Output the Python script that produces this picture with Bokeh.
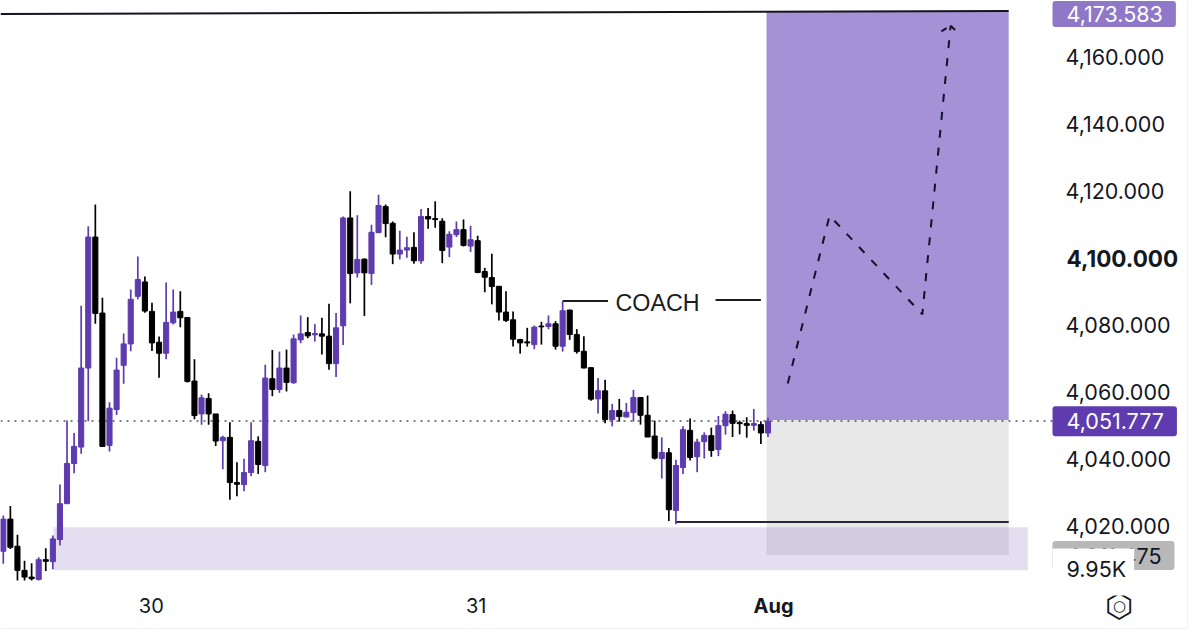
from bokeh.plotting import figure
from bokeh.models import Range1d, FixedTicker, Label, ColumnDataSource
from bokeh.embed import file_html
from bokeh.resources import INLINE

highs = [4023.3,4026.1,4017.5,4009.8,4009.0,4010.8,4013.5,4017.3,4032.5,4051.6,
         4047.9,4085.9,4109.6,4116.1,4088.3,4057.1,4070.4,4077.6,4090.7,4100.6,
         4094.6,4086.8,4076.7,4092.8,4090.7,4090.2,4082.5,4069.9,4059.4,4059.8,
         4053.6,4047.1,4051.1,4039.2,4040.2,4051.1,4046.9,4068.3,4072.7,4072.2,
         4072.8,4077.3,4083.0,4082.5,4080.4,4082.3,4086.5,4083.7,4112.5,4120.1,
         4112.9,4100.0,4110.1,4119.0,4116.1,4111.0,4108.3,4106.5,4107.8,4114.8,
         4115.1,4117.1,4112.0,4108.1,4111.0,4111.6,4109.8,4106.8,4097.2,4101.4,
         4091.8,4090.2,4084.2,4076.0,4079.3,4080.0,4081.1,4083.0,4081.3,4087.3,
         4084.7,4078.9,4076.8,4067.5,4064.3,4063.8,4056.6,4058.1,4056.9,4060.8,
         4058.6,4059.1,4051.6,4046.6,4043.4,4039.9,4049.9,4052.2,4046.2,4048.1,
         4049.5,4053.0,4054.4,4054.6,4051.6,4052.6,4055.1,4051.4,4052.5]
opens = [4012.6,4022.2,4014.1,4006.9,4004.9,4004.2,4010.1,4009.5,4016.1,4026.8,
         4038.8,4043.7,4067.3,4106.4,4083.7,4044.2,4054.9,4068.1,4074.5,4088.7,
         4093.0,4084.2,4075.0,4071.7,4080.8,4084.2,4082.4,4063.4,4053.6,4058.2,
         4053.6,4045.6,4046.6,4033.1,4032.5,4036.1,4045.4,4038.2,4064.1,4060.9,
         4067.3,4062.9,4075.7,4077.9,4077.2,4077.5,4076.8,4068.6,4079.9,4112.1,
         4095.7,4099.8,4095.5,4107.7,4115.5,4110.5,4101.3,4102.5,4103.3,4099.3,
         4112.5,4111.9,4111.1,4103.4,4107.1,4108.6,4103.7,4105.3,4096.1,4094.3,
         4091.7,4084.0,4081.7,4075.8,4075.1,4074.3,4079.8,4079.7,4080.5,4073.8,
         4084.6,4077.3,4072.3,4067.4,4058.1,4060.5,4051.9,4054.6,4052.7,4054.0,
         4058.5,4053.2,4047.0,4040.3,4042.0,4024.8,4037.6,4048.7,4040.8,4045.3,
         4047.1,4043.0,4050.1,4053.4,4051.0,4050.7,4050.2,4050.4,4047.9]
closes = [4022.2,4013.8,4006.9,4004.9,4004.4,4010.1,4009.6,4016.3,4026.8,4038.8,
          4043.9,4067.3,4106.4,4083.6,4043.9,4055.3,4066.7,4074.5,4087.8,4093.7,
          4084.3,4074.8,4071.7,4080.9,4084.0,4082.3,4063.3,4053.1,4058.4,4053.6,
          4045.5,4046.6,4033.1,4032.6,4036.1,4045.6,4038.5,4064.3,4060.9,4067.3,
          4063.0,4076.0,4077.5,4076.9,4077.6,4076.8,4068.6,4079.3,4112.1,4095.5,
          4099.7,4095.7,4107.8,4115.8,4110.4,4101.3,4102.5,4103.2,4099.3,4112.5,
          4111.8,4111.6,4102.4,4107.2,4108.6,4103.9,4105.6,4095.8,4094.4,4091.6,
          4084.0,4081.5,4075.9,4074.8,4074.8,4079.5,4079.6,4080.5,4073.8,4084.4,
          4077.3,4072.2,4067.3,4058.0,4060.5,4051.9,4054.6,4052.8,4054.1,4058.5,
          4053.2,4046.7,4040.4,4042.1,4025.0,4038.2,4048.9,4040.6,4045.2,4047.2,
          4042.7,4050.1,4053.5,4050.8,4050.7,4050.2,4050.7,4047.9,4051.5]
lows = [4008.9,4013.3,4003.9,4003.9,4003.9,4003.9,4006.7,4007.2,4014.3,4026.8,
        4035.9,4041.7,4051.4,4080.5,4043.9,4042.4,4053.3,4062.6,4072.3,4087.8,
        4083.8,4072.4,4064.4,4069.9,4080.3,4079.5,4063.0,4052.0,4050.4,4050.4,
        4044.0,4037.1,4028.0,4029.0,4030.5,4035.0,4035.7,4036.2,4058.9,4059.9,
        4060.3,4062.6,4074.7,4076.2,4075.2,4071.3,4066.8,4064.6,4074.2,4086.6,
        4094.3,4082.8,4092.1,4107.7,4106.3,4098.3,4099.7,4100.2,4098.4,4098.4,
        4108.9,4109.2,4098.6,4100.4,4106.4,4103.6,4101.9,4095.6,4089.9,4086.3,
        4081.5,4081.0,4073.7,4071.6,4073.7,4072.9,4074.3,4078.9,4072.8,4072.2,
        4075.7,4071.6,4067.2,4057.5,4053.7,4050.8,4049.9,4051.3,4052.5,4051.3,
        4050.4,4046.7,4040.0,4034.3,4021.6,4020.7,4035.7,4039.7,4036.2,4040.3,
        4040.8,4041.0,4047.4,4046.7,4047.5,4046.5,4048.6,4044.6,4046.7]

price_ticks = [4020, 4040, 4060, 4080, 4100, 4120, 4140, 4160]
bold_price = 4100
date_positions = [20.9, 66.8, 108.8]
date_labels = ["30", "31", "Aug"]
target_price = 4173.583
last_price = 4051.777
stop_price = 4011.475
volume_label = "9.95K"
zone_low, zone_high = 4006.9, 4019.8
floor_price = 4021.3
coach_price = 4087.3
path_x = [110.8, 116.7, 129.8, 133.8]
path_y = [4062.7, 4112.8, 4083.3, 4169.5]
head_x = [132.5, 133.8, 134.9]
head_y = [4167.8, 4169.5, 4167.2]

PURPLE = "#5E3BAE"
INK = "#131722"
FONT = "Inter"
PRICE_SIZE = "21.5px"

p = figure(width=1199, height=636, output_backend="svg", toolbar_location=None,
           x_range=Range1d(-0.395, 168.95), y_range=Range1d(3987.16, 4177.0),
           min_border_left=0, min_border_right=0, min_border_top=0, min_border_bottom=0,
           x_axis_location="below", y_axis_location="right")
p.grid.visible = False
p.outline_line_color = None
p.background_fill_color = "white"

for ax in (p.xaxis[0], p.yaxis[0]):
    ax.axis_line_color = None
    ax.major_tick_line_color = None
    ax.minor_tick_line_color = None
    ax.major_label_text_font = FONT
    ax.major_label_text_color = INK

p.yaxis[0].major_label_text_font_size = PRICE_SIZE
p.xaxis[0].major_label_text_font_size = "20px"
p.yaxis[0].ticker = FixedTicker(ticks=price_ticks)
p.yaxis[0].major_label_overrides = {t: ("" if t == bold_price else f"{t:,.3f}") for t in price_ticks}
p.yaxis[0].major_label_standoff = -140
p.xaxis[0].ticker = FixedTicker(ticks=date_positions)
p.xaxis[0].major_label_overrides = {d: ("" if l == "Aug" else l) for d, l in zip(date_positions, date_labels)}
p.xaxis[0].major_label_standoff = -45

# screenshot's faint panel edges
p.line([167.26, 167.26], [3989.55, 4177.0], line_color="#F1F1F3", line_width=1)
p.line([-0.395, 167.26], [3989.55, 3989.55], line_color="#F1F1F3", line_width=1)

# zones
first, target_l, target_r, zone_r = 7.1, 107.8, 142.0, 144.7
tag_left = 148.2
p.quad(left=target_l, right=target_r, bottom=last_price, top=target_price, fill_color="#A591D5", line_color=None)
p.quad(left=target_l, right=target_r, bottom=stop_price, top=last_price, fill_color="#E8E8E8", line_color=None)
p.quad(left=first, right=zone_r, bottom=zone_low, top=zone_high, fill_color="#5E3BAE", fill_alpha=0.17, line_color=None)

# levels
p.line([-0.395, target_r], [target_price - 0.6, target_price + 0.3], line_color="#16131f", line_width=2)
p.line([-0.395, tag_left], [last_price - 0.3, last_price - 0.3], line_color="#555555", line_width=1.6, line_dash="2 5")
p.line([94.9, target_r], [floor_price, floor_price], line_color="#2a2438", line_width=2)
p.line([79.0, 85.4], [coach_price, coach_price], line_color="#1b1b24", line_width=2)
p.line([100.6, 107.0], [coach_price + 0.3, coach_price + 0.3], line_color="#1b1b24", line_width=2)

# candles
xs = list(range(len(opens)))
colors = [PURPLE if c >= o else "#000000" for o, c in zip(opens, closes)]
src = ColumnDataSource(dict(x=xs, h=highs, l=lows, t=[max(a, b) for a, b in zip(opens, closes)],
                            b=[min(a, b) for a, b in zip(opens, closes)], c=colors))
p.segment(x0="x", x1="x", y0="l", y1="h", line_color="c", line_width=1.7, source=src)
p.vbar(x="x", width=0.72, top="t", bottom="b", fill_color="c", line_color="c", line_width=1, source=src)

# projected path
p.line(path_x, path_y, line_color="#14102a", line_width=2, line_dash="8 10")
p.line(head_x, head_y, line_color="#14102a", line_width=2, line_dash="6 5")

# annotations
p.add_layout(Label(x=615, x_units="screen", y=coach_price - 0.6, text="COACH", text_font="Liberation Sans",
                   text_font_size="23.3px", text_color="#1c1c1c", text_baseline="middle"))
p.add_layout(Label(x=1066, x_units="screen", y=bold_price, text=f"{bold_price:,.3f}", text_font=FONT,
                   text_font_size="22.5px", text_font_style="bold", text_color=INK, text_baseline="middle"))

axis_font_y = 3996.4
pos = dict(zip(date_labels, date_positions))
p.add_layout(Label(x=pos["Aug"], y=axis_font_y, text="Aug", text_font=FONT, text_font_size="20px",
                   text_font_style="bold", text_color=INK, text_align="center", text_baseline="middle"))
p.add_layout(Label(x=1119, x_units="screen", y=axis_font_y, text="\u2B21", text_font="DejaVu Sans",
                   text_font_size="33px", text_color=INK, text_align="center", text_baseline="middle"))
p.add_layout(Label(x=1119, x_units="screen", y=axis_font_y, text="\u25CB", text_font="DejaVu Sans",
                   text_font_size="15px", text_color=INK, text_align="center", text_baseline="middle"))


def tag(price, text, bg, color, padding):
    # padding is (left, right, top, bottom)
    p.add_layout(Label(x=1052, x_units="screen", y=price, text=text, text_font=FONT, text_font_size=PRICE_SIZE,
                       text_color=color, text_baseline="middle", background_fill_color=bg,
                       padding=padding, border_radius=3))


tag(target_price - 0.6, f"{target_price:,.3f}", "#8F78C7", "white", (14, 13, 5, 5))
tag(stop_price - 0.1, f"{stop_price:,.3f}", "#B8B8B8", INK, (14, 13, 7, 6))
tag(last_price - 0.4, f"{last_price:,.3f}", PURPLE, "white", (14, 13, 7, 7))
p.add_layout(Label(x=1052, x_units="screen", y=4006.4, text=volume_label, text_font=FONT, text_font_size=PRICE_SIZE,
                   text_color=INK, text_baseline="middle", background_fill_color="white",
                   padding=(14, 8, 7, 14)))

open("out.html", "w").write(file_html(p, INLINE))
